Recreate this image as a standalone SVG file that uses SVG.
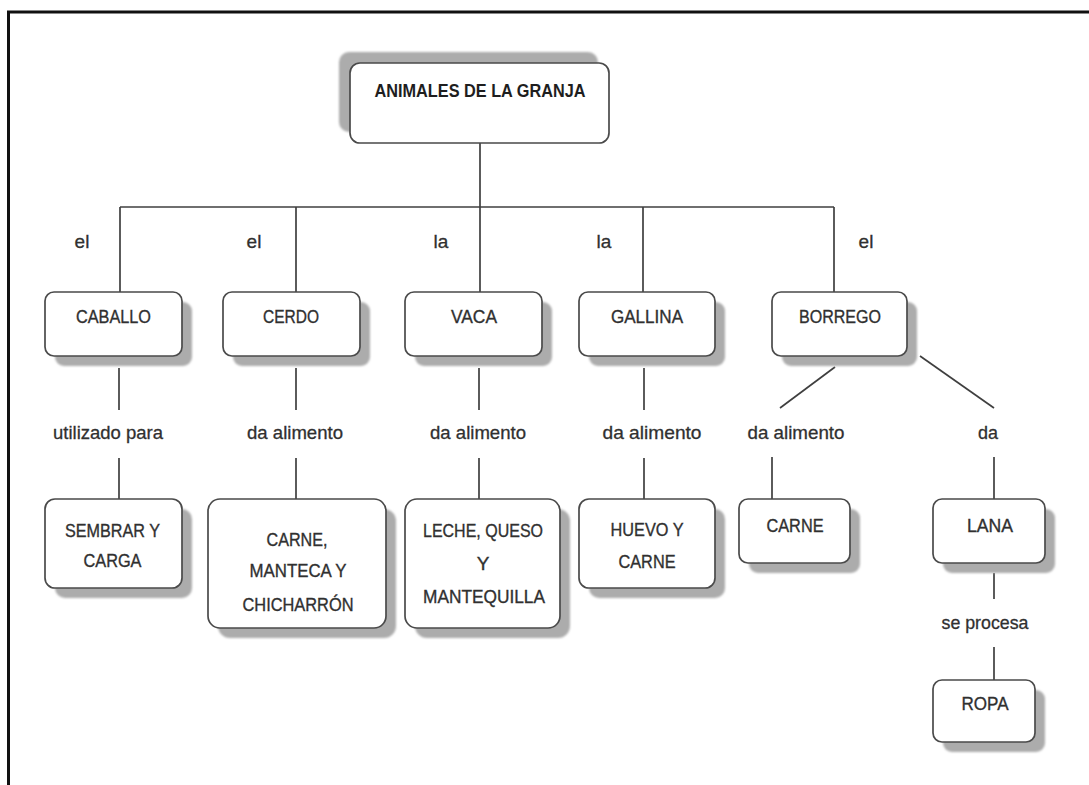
<svg xmlns="http://www.w3.org/2000/svg" width="1089" height="785" viewBox="0 0 1089 785">
  <style>
    .box { fill: #ffffff; stroke: #4a4a4a; stroke-width: 1.7; }
    .shadow { fill: #acacac; filter: url(#soft); }
    .node { font-family: "Liberation Sans", "Open Sans", sans-serif; font-size: 19px; fill: #303030; stroke: #303030; stroke-width: 0.35; text-anchor: middle; }
    .title { font-family: "Liberation Sans", "Open Sans", sans-serif; font-size: 18px; font-weight: bold; fill: #1e1e1e; text-anchor: middle; }
    .lbl { font-family: "Liberation Sans", "Open Sans", sans-serif; font-size: 19px; fill: #303030; stroke: #303030; stroke-width: 0.3; text-anchor: middle; }
    .wire { stroke: #3f3f3f; stroke-width: 1.7; fill: none; }
    .frame { stroke: #111111; stroke-width: 3; fill: none; }
  </style>
  <defs>
    <filter id="soft" x="-10%" y="-10%" width="120%" height="120%">
      <feGaussianBlur stdDeviation="1.2"/>
    </filter>
  </defs>

  <rect x="0" y="0" width="1089" height="785" fill="#ffffff"/>

  <!-- page frame: top and left rules -->
  <g id="frame">
    <line class="frame" x1="7" y1="12" x2="1089" y2="12"/>
    <line class="frame" x1="8.5" y1="11" x2="8.5" y2="785"/>
  </g>

  <!-- connectors -->
  <g id="connectors">
    <line class="wire" x1="480" y1="143" x2="480" y2="207"/>
    <line class="wire" x1="120" y1="207" x2="834" y2="207"/>
    <line class="wire" x1="120" y1="207" x2="120" y2="292"/>
    <line class="wire" x1="296" y1="207" x2="296" y2="292"/>
    <line class="wire" x1="480" y1="207" x2="480" y2="292"/>
    <line class="wire" x1="643" y1="207" x2="643" y2="292"/>
    <line class="wire" x1="834" y1="207" x2="834" y2="292"/>

    <line class="wire" x1="119" y1="368" x2="119" y2="410"/>
    <line class="wire" x1="119" y1="458" x2="119" y2="499"/>
    <line class="wire" x1="296" y1="368" x2="296" y2="410"/>
    <line class="wire" x1="296" y1="458" x2="296" y2="499"/>
    <line class="wire" x1="479" y1="368" x2="479" y2="410"/>
    <line class="wire" x1="479" y1="458" x2="479" y2="499"/>
    <line class="wire" x1="644" y1="368" x2="644" y2="410"/>
    <line class="wire" x1="644" y1="458" x2="644" y2="499"/>

    <line class="wire" x1="835" y1="367" x2="780" y2="408"/>
    <line class="wire" x1="920" y1="356" x2="994" y2="408"/>
    <line class="wire" x1="772" y1="457" x2="772" y2="499"/>
    <line class="wire" x1="994" y1="457" x2="994" y2="499"/>

    <line class="wire" x1="994" y1="573" x2="994" y2="599"/>
    <line class="wire" x1="994" y1="647" x2="994" y2="680"/>

    <!-- link words -->
    <text class="lbl" x="82" y="248">el</text>
    <text class="lbl" x="254" y="248">el</text>
    <text class="lbl" x="441" y="248">la</text>
    <text class="lbl" x="604" y="248">la</text>
    <text class="lbl" x="866" y="248">el</text>

    <text class="lbl" x="108" y="439" textLength="110" lengthAdjust="spacingAndGlyphs">utilizado para</text>
    <text class="lbl" x="295" y="439" textLength="96" lengthAdjust="spacingAndGlyphs">da alimento</text>
    <text class="lbl" x="478" y="439" textLength="96" lengthAdjust="spacingAndGlyphs">da alimento</text>
    <text class="lbl" x="652" y="439" textLength="99" lengthAdjust="spacingAndGlyphs">da alimento</text>
    <text class="lbl" x="796" y="439" textLength="97" lengthAdjust="spacingAndGlyphs">da alimento</text>
    <text class="lbl" x="988" y="439" textLength="20" lengthAdjust="spacingAndGlyphs">da</text>
    <text class="lbl" x="985" y="629" textLength="87" lengthAdjust="spacingAndGlyphs">se procesa</text>
  </g>

  <!-- root -->
  <g id="n-animales">
    <rect class="shadow" x="339" y="52" width="259" height="80" rx="10"/>
    <rect class="box" x="350" y="63" width="259" height="80" rx="10"/>
    <text class="title" x="480" y="97" textLength="211" lengthAdjust="spacingAndGlyphs">ANIMALES DE LA GRANJA</text>
  </g>

  <!-- animals -->
  <g id="n-caballo">
    <rect class="shadow" x="55" y="302" width="137" height="64" rx="9"/>
    <rect class="box" x="45" y="292" width="137" height="64" rx="9"/>
    <text class="node" x="113.5" y="323" textLength="75" lengthAdjust="spacingAndGlyphs">CABALLO</text>
  </g>
  <g id="n-cerdo">
    <rect class="shadow" x="233" y="302" width="137" height="64" rx="9"/>
    <rect class="box" x="223" y="292" width="137" height="64" rx="9"/>
    <text class="node" x="291" y="323" textLength="56" lengthAdjust="spacingAndGlyphs">CERDO</text>
  </g>
  <g id="n-vaca">
    <rect class="shadow" x="415" y="302" width="137" height="64" rx="9"/>
    <rect class="box" x="405" y="292" width="137" height="64" rx="9"/>
    <text class="node" x="474" y="323" textLength="46" lengthAdjust="spacingAndGlyphs">VACA</text>
  </g>
  <g id="n-gallina">
    <rect class="shadow" x="589" y="302" width="136" height="64" rx="9"/>
    <rect class="box" x="579" y="292" width="136" height="64" rx="9"/>
    <text class="node" x="647" y="323" textLength="72" lengthAdjust="spacingAndGlyphs">GALLINA</text>
  </g>
  <g id="n-borrego">
    <rect class="shadow" x="782" y="302" width="135" height="64" rx="9"/>
    <rect class="box" x="772" y="292" width="135" height="64" rx="9"/>
    <text class="node" x="840" y="323" textLength="82" lengthAdjust="spacingAndGlyphs">BORREGO</text>
  </g>

  <!-- products -->
  <g id="n-sembrar">
    <rect class="shadow" x="55" y="509" width="137" height="89" rx="10"/>
    <rect class="box" x="45" y="499" width="137" height="89" rx="10"/>
    <text class="node" x="112.5" y="537" textLength="95" lengthAdjust="spacingAndGlyphs">SEMBRAR Y</text>
    <text class="node" x="112.5" y="567" textLength="58" lengthAdjust="spacingAndGlyphs">CARGA</text>
  </g>
  <g id="n-carne-cerdo">
    <rect class="shadow" x="218" y="509" width="178" height="129" rx="12"/>
    <rect class="box" x="208" y="499" width="178" height="129" rx="12"/>
    <text class="node" x="297" y="546" textLength="61" lengthAdjust="spacingAndGlyphs">CARNE,</text>
    <text class="node" x="298" y="577" textLength="97" lengthAdjust="spacingAndGlyphs">MANTECA Y</text>
    <text class="node" x="298" y="611" textLength="111" lengthAdjust="spacingAndGlyphs">CHICHARRÓN</text>
  </g>
  <g id="n-leche">
    <rect class="shadow" x="415" y="509" width="155" height="129" rx="12"/>
    <rect class="box" x="405" y="499" width="155" height="129" rx="12"/>
    <text class="node" x="483" y="537" textLength="120" lengthAdjust="spacingAndGlyphs">LECHE, QUESO</text>
    <text class="node" x="483" y="570">Y</text>
    <text class="node" x="484" y="603" textLength="122" lengthAdjust="spacingAndGlyphs">MANTEQUILLA</text>
  </g>
  <g id="n-huevo">
    <rect class="shadow" x="589" y="509" width="136" height="89" rx="10"/>
    <rect class="box" x="579" y="499" width="136" height="89" rx="10"/>
    <text class="node" x="647" y="536" textLength="73" lengthAdjust="spacingAndGlyphs">HUEVO Y</text>
    <text class="node" x="647" y="568" textLength="57" lengthAdjust="spacingAndGlyphs">CARNE</text>
  </g>
  <g id="n-carne-borrego">
    <rect class="shadow" x="749" y="509" width="111" height="64" rx="9"/>
    <rect class="box" x="739" y="499" width="111" height="64" rx="9"/>
    <text class="node" x="795" y="532" textLength="57" lengthAdjust="spacingAndGlyphs">CARNE</text>
  </g>
  <g id="n-lana">
    <rect class="shadow" x="943" y="509" width="112" height="64" rx="9"/>
    <rect class="box" x="933" y="499" width="112" height="64" rx="9"/>
    <text class="node" x="990" y="532" textLength="46" lengthAdjust="spacingAndGlyphs">LANA</text>
  </g>
  <g id="n-ropa">
    <rect class="shadow" x="943" y="690" width="102" height="62" rx="9"/>
    <rect class="box" x="933" y="680" width="102" height="62" rx="9"/>
    <text class="node" x="985" y="710" textLength="47" lengthAdjust="spacingAndGlyphs">ROPA</text>
  </g>
</svg>
